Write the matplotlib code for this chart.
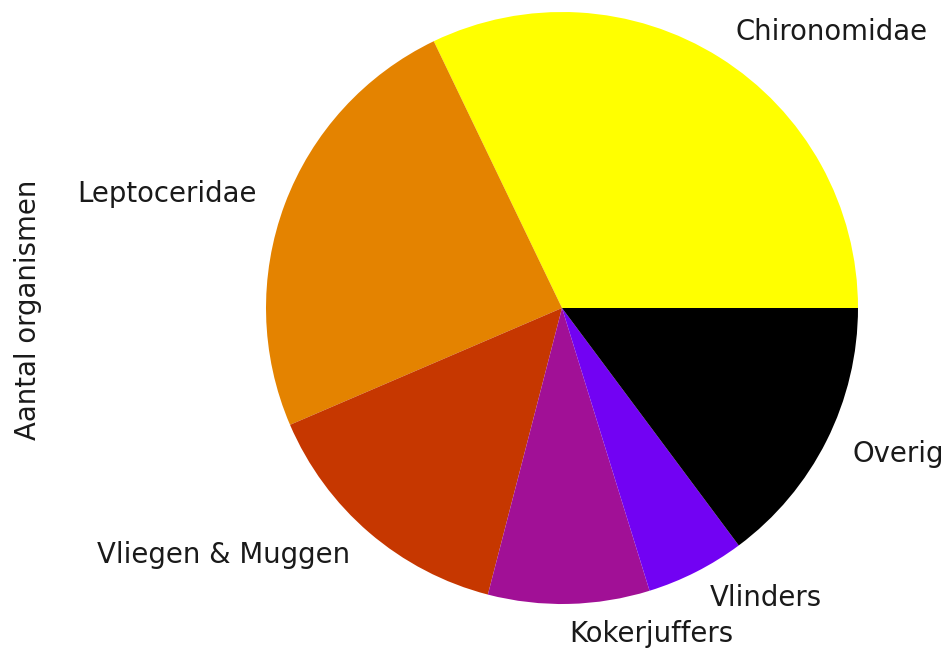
import numpy as np
import matplotlib
matplotlib.use("Agg")
import matplotlib.pyplot as plt

groepen = ["Chironomidae", "Leptoceridae", "Vliegen & Muggen",
           "Kokerjuffers", "Vlinders", "Overig"]
aantallen = [321, 243, 145, 88, 54, 148]

kleuren = plt.get_cmap("gnuplot_r")(np.linspace(0, 1, len(groepen)))

fig = plt.figure(figsize=(9.49, 6.52), dpi=100)
ax = fig.add_axes([0, 0, 1, 1])
ax.pie(aantallen, labels=groepen, colors=kleuren,
       textprops={"fontsize": 19.8, "color": "#1a1a1a"})
ax.set_aspect("auto")
ax.set_xlim(-562 / 296, (949 - 562) / 296)
ax.set_ylim((308 - 652) / 296, 308 / 296)
ax.axis("off")

fig.text(28 / 949, 1 - 310 / 652, "Aantal organismen", rotation=90,
         ha="center", va="center", fontsize=19.8, color="#1a1a1a")

fig.savefig("out.png", dpi=100)
